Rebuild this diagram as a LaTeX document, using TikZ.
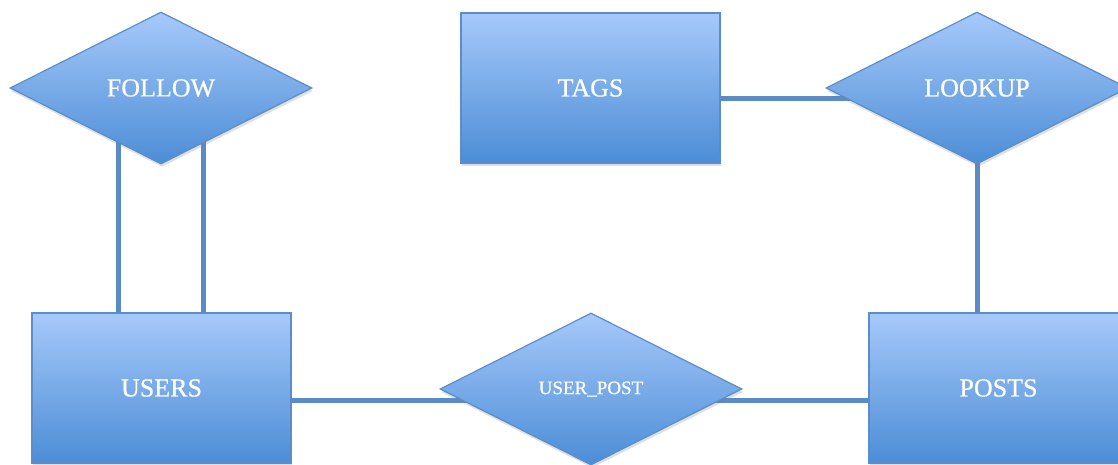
\documentclass[tikz,border=0pt]{standalone}
\usepackage{fontspec}
\setmainfont{Liberation Serif}[FakeBold=0.6]
\usetikzlibrary{shapes.geometric,backgrounds,shadows}
\definecolor{topc}{HTML}{A6C9FA}
\definecolor{botc}{HTML}{4C8DD6}
\definecolor{edgec}{HTML}{5A8DCA}
\definecolor{linec}{HTML}{5A8BC6}
\begin{document}
\begin{tikzpicture}[x=1pt,y=-1pt,
  ent/.style={rectangle, draw=edgec, line width=1.2pt, top color=topc, bottom color=botc,
    minimum width=259pt, minimum height=150pt, inner sep=0pt, text=white,
    font=\fontsize{26}{31}\selectfont,
    drop shadow={shadow xshift=1pt, shadow yshift=-3pt, opacity=0.25}},
  rel/.style={diamond, draw=edgec, line width=1.2pt, top color=topc, bottom color=botc,
    minimum width=302pt, minimum height=152pt, inner sep=0pt, text=white,
    font=\fontsize{26}{31}\selectfont,
    drop shadow={shadow xshift=1pt, shadow yshift=-3pt, opacity=0.25}},
  conn/.style={draw=linec, line width=5pt}]
\useasboundingbox (0,0) rectangle (1118,465);
\begin{scope}
\clip (0,0) rectangle (1118,465);
\node[rel] (follow) at (161,88) {FOLLOW};
\node[ent] (tags) at (590.5,88) {TAGS};
\node[rel] (lookup) at (977,88) {LOOKUP};
\node[ent] (users) at (161.5,388) {USERS};
\node[rel, font=\fontsize{19}{23}\selectfont] (userpost) at (591,389) {USER\_POST};
\node[ent] (posts) at (998.5,388) {POSTS};
\begin{scope}[on background layer]
\draw[conn] ([xshift=-43.5pt]users.north) -- ([xshift=-43.5pt]users.north |- follow.center);
\draw[conn] ([xshift=41.5pt]users.north) -- ([xshift=41.5pt]users.north |- follow.center);
\draw[conn] ([yshift=-11pt]tags.east) -- ([yshift=-11pt]lookup.center);
\draw[conn] (lookup.center) -- (lookup.center |- posts.north);
\draw[conn] ([yshift=-12pt]users.east) -- ([yshift=-12pt]posts.west);
\end{scope}
\end{scope}
\end{tikzpicture}
\end{document}
